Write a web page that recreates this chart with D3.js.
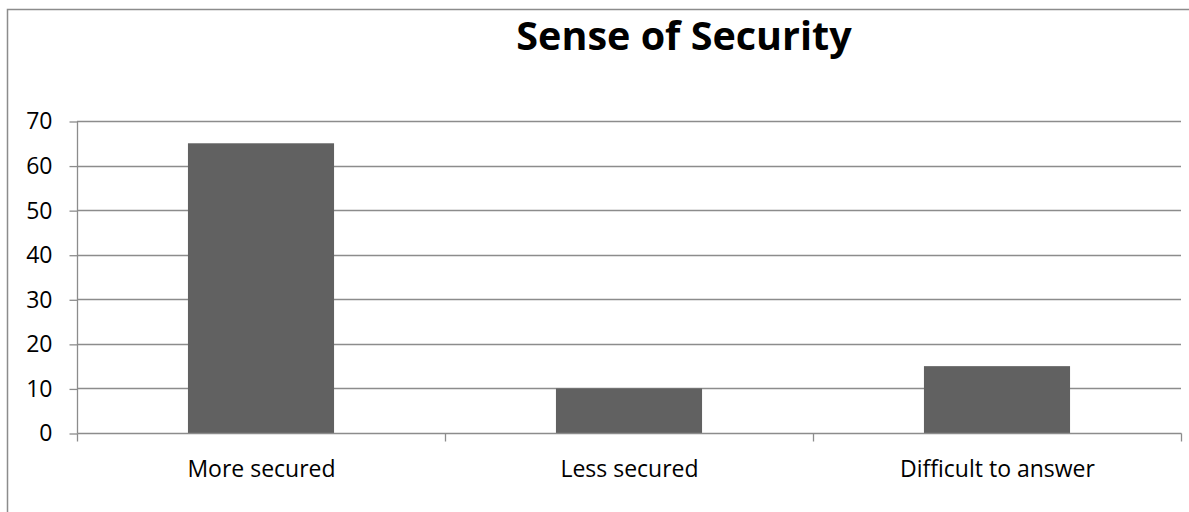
<!DOCTYPE html>
<html>
<head>
<meta charset="utf-8">
<script src="https://cdn.jsdelivr.net/npm/d3@7"></script>
<style>
  html, body { margin: 0; padding: 0; background: #fff; }
  svg { display: block; }
</style>
</head>
<body>
<script>
// Survey responses: sense of security
const categories = ["More secured", "Less secured", "Difficult to answer"];
const values = [65, 10, 15];
const yTicks = [0, 10, 20, 30, 40, 50, 60, 70];
const title = "Sense of Security";

const W = 1189, H = 512;
const svg = d3.select("body").append("svg").attr("width", W).attr("height", H);

// outer chart frame
svg.append("path")
  .attr("d", `M7.5,${H + 2}V9.5H${W + 2}`)
  .attr("fill", "none").attr("stroke", "#8c8c8c").attr("stroke-width", 1.5);

const plotL = 77, plotR = 1181, plotT = 121, plotB = 433;

const x = d3.scaleBand().domain(categories).range([plotL, plotR]).paddingInner(0).paddingOuter(0);
const y = d3.scaleLinear().domain([0, 70]).range([plotB, plotT]);

// horizontal gridlines
svg.append("g").selectAll("line").data(yTicks.filter(d => d > 0)).join("line")
  .attr("x1", plotL).attr("x2", plotR)
  .attr("y1", d => Math.round(y(d)) + 0.5).attr("y2", d => Math.round(y(d)) + 0.5)
  .attr("stroke", "#8c8c8c").attr("stroke-width", 1.3);

// bars
const barW = x.bandwidth() * 0.397;
svg.append("g").selectAll("rect").data(values).join("rect")
  .attr("x", (d, i) => x(categories[i]) + (x.bandwidth() - barW) / 2)
  .attr("width", barW)
  .attr("y", d => y(d))
  .attr("height", d => y(0) - y(d))
  .attr("fill", "#616161");

// y axis
const yAxis = d3.axisLeft(y).tickValues(yTicks).tickSize(8).tickPadding(17);
const gy = svg.append("g").attr("transform", `translate(${plotL + 0.5},0.5)`).call(yAxis);
gy.select(".domain").attr("stroke", "#8c8c8c").attr("stroke-width", 1.3).attr("d", `M0,${plotB}V${plotT}`);
gy.selectAll(".tick line").attr("stroke", "#8c8c8c").attr("stroke-width", 1.3);
gy.selectAll(".tick text")
  .attr("font-family", "'Open Sans', sans-serif").attr("font-size", 23).attr("fill", "#000");

// x axis with ticks at category boundaries
const gx = svg.append("g").attr("transform", `translate(0.5,${plotB + 0.5})`);
gx.append("line").attr("x1", plotL).attr("x2", plotR).attr("stroke", "#8c8c8c").attr("stroke-width", 1.3);
const bounds = categories.map(c => x(c)).concat([x(categories[categories.length - 1]) + x.bandwidth()]);
gx.selectAll("line.tk").data(bounds).join("line").attr("class", "tk")
  .attr("x1", d => d).attr("x2", d => d).attr("y1", 0).attr("y2", 8)
  .attr("stroke", "#8c8c8c").attr("stroke-width", 1.3);
gx.selectAll("text").data(categories).join("text")
  .attr("x", d => x(d) + x.bandwidth() / 2).attr("y", 43)
  .attr("text-anchor", "middle")
  .attr("font-family", "'Open Sans', sans-serif").attr("font-size", 23).attr("fill", "#000")
  .text(d => d);

// title
svg.append("text")
  .attr("x", 684).attr("y", 50)
  .attr("text-anchor", "middle")
  .attr("font-family", "'Open Sans', sans-serif").attr("font-weight", "bold").attr("font-size", 39.5)
  .attr("fill", "#000")
  .text(title);
</script>
</body>
</html>
